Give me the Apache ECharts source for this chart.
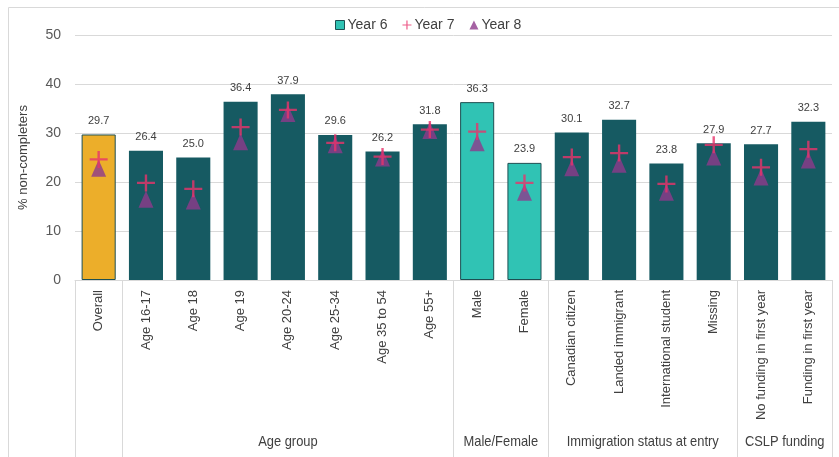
<!DOCTYPE html>
<html><head><meta charset="utf-8">
<script src="https://cdn.jsdelivr.net/npm/echarts@6/dist/echarts.min.js"></script>
<style>html,body{margin:0;padding:0;background:#fff}#c{width:839px;height:457px}</style>
</head><body><div id="c"></div>
<script>
var categories = ['Overall','Age 16-17','Age 18','Age 19','Age 20-24','Age 25-34','Age 35 to 54','Age 55+','Male','Female','Canadian citizen','Landed immigrant','International student','Missing','No funding in first year','Funding in first year'];
var year6 = [29.7,26.4,25.0,36.4,37.9,29.6,26.2,31.8,36.3,23.9,30.1,32.7,23.8,27.9,27.7,32.3];
var year7 = [24.6,19.8,18.6,31.2,34.7,28.0,25.2,30.7,30.3,19.8,25.1,25.9,19.6,27.6,23.0,26.7];
var year8 = [22.8,16.5,16.1,28.2,34.0,27.6,24.9,30.5,28.0,17.9,22.9,23.6,17.9,25.1,21.0,24.5];
var groupNames = ['Age group','Male/Female','Immigration status at entry','CSLP funding'];
var groupFirst = [1,8,10,14];
var groupLast = [7,9,13,15];
var yTicks = [0,10,20,30,40,50];

var DARK = '#165a62', LIGHT = '#30c3b4', ORANGE = '#ecae2a', PLUS = '#e8336b', TRI = '#8e3a8c';
var plusPath = 'path://M0,7.8H18V10.2H0Z M7.8,0H10.2V18H7.8Z';

function barStyle(i){
  if (i === 0) return {color: ORANGE, borderColor: '#1d4f52', borderWidth: 1};
  if (i >= groupFirst[1] && i <= groupLast[1]) return {color: LIGHT, borderColor: '#1d4f52', borderWidth: 1};
  return {color: DARK, borderColor: DARK, borderWidth: 0};
}
var tickIdx = [0].concat(groupFirst);

var chart = echarts.init(document.getElementById('c'), null, {renderer:'canvas'});
var FONT = 'Liberation Sans, Arial, sans-serif';
chart.setOption({
  animation: false,
  textStyle: {fontFamily: FONT},
  legend: {
    top: 13, left: 330, itemGap: 15, itemWidth: 9, itemHeight: 9,
    textStyle: {fontSize: 14, color: '#404040', fontFamily: FONT, padding: [0, 0, 0, -2]},
    data: [
      {name: 'Year 6', icon: 'rect', itemStyle: {color: LIGHT, borderColor: '#1d4f52', borderWidth: 1}},
      {name: 'Year 7', icon: plusPath, itemStyle: {color: PLUS}},
      {name: 'Year 8', icon: 'triangle', itemStyle: {color: TRI}}
    ]
  },
  grid: {left: 75, right: 7, top: 35, bottom: 177, containLabel: false},
  xAxis: {
    type: 'category', data: categories,
    axisLine: {show: true, lineStyle: {color: '#d9d9d9', width: 1}},
    axisTick: {show: true, length: 177, lineStyle: {color: '#d9d9d9'},
      interval: function(index){ return tickIdx.indexOf(index) >= 0; }},
    axisLabel: {interval: 0, rotate: 90, fontSize: 13, color: '#404040', margin: 10, fontFamily: FONT}
  },
  yAxis: {
    type: 'value', min: 0, max: 50, interval: 10,
    name: '% non-completers', nameLocation: 'middle', nameRotate: 90, nameGap: 45,
    nameTextStyle: {fontSize: 13, color: '#404040', fontFamily: FONT},
    axisLine: {show: false}, axisTick: {show: false},
    axisLabel: {fontSize: 14, color: '#595959', margin: 14, fontFamily: FONT,
      formatter: function(v){ return yTicks.indexOf(v) >= 0 ? String(v) : ''; }},
    splitLine: {lineStyle: {color: '#d9d9d9', width: 1}}
  },
  series: [
    {
      name: 'Year 6', type: 'bar', barWidth: '72%',
      itemStyle: {color: LIGHT, borderColor: '#1d4f52', borderWidth: 1},
      label: {show: true, position: 'top', distance: 8, fontSize: 11, color: '#404040', fontFamily: FONT,
        formatter: function(p){ return p.value.toFixed(1); }},
      data: year6.map(function(v, i){ return {value: v, itemStyle: barStyle(i)}; }),
      z: 2
    },
    {
      name: 'Year 7', type: 'scatter', symbol: plusPath, symbolSize: [18, 17],
      itemStyle: {color: PLUS}, data: year7, z: 4
    },
    {
      name: 'Year 8', type: 'scatter', symbol: 'triangle', symbolSize: [15, 17],
      itemStyle: {color: TRI}, data: year8, z: 3
    }
  ]
});

function placeGraphics(){
  var els = [];
  var grid = chart.getModel().getComponent('grid').coordinateSystem.getRect();
  var band = grid.width / categories.length;
  for (var g = 0; g < groupNames.length; g++) {
    var x1 = chart.convertToPixel({xAxisIndex: 0}, categories[groupFirst[g]]) - band / 2;
    var x2 = chart.convertToPixel({xAxisIndex: 0}, categories[groupLast[g]]) + band / 2;
    els.push({type: 'text', x: (x1 + x2) / 2, y: 442, scaleX: 0.86,
      style: {text: groupNames[g], fill: '#404040',
      font: '15px "Liberation Sans", Arial', align: 'center', verticalAlign: 'middle'}});
  }
  els.push({type: 'rect', shape: {x: 8.5, y: 7.5, width: 900, height: 900}, style: {fill: null, stroke: '#d9d9d9', lineWidth: 1}, silent: true});
  chart.setOption({graphic: els});
}
placeGraphics();
</script></body></html>
